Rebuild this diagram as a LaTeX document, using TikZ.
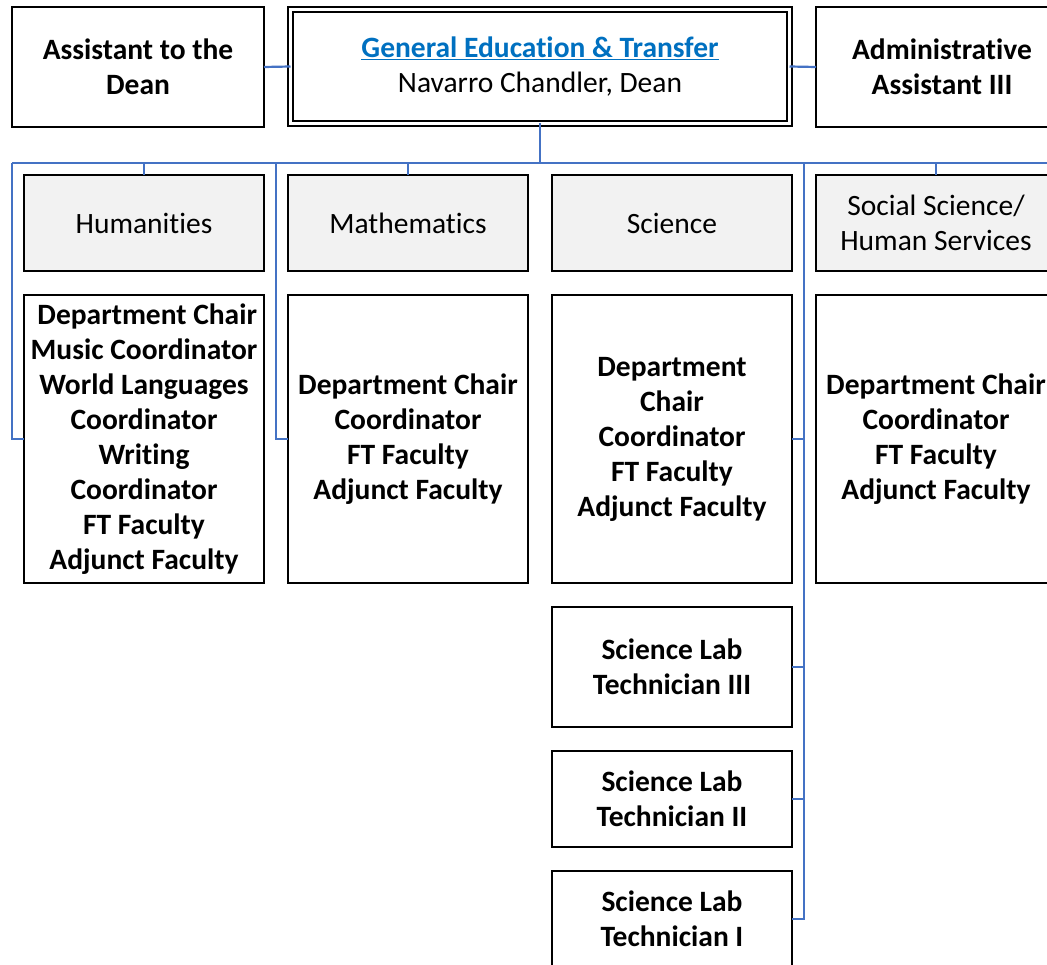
\documentclass[tikz,border=0pt]{standalone}
\usepackage{fontspec}
\setmainfont{Carlito}[Ligatures={NoCommon}]
\definecolor{connblue}{HTML}{4472C4}
\definecolor{linkblue}{HTML}{0070C0}
\definecolor{grayfill}{HTML}{F2F2F2}
\newcommand\orgfs{\fontsize{29.5}{35}\selectfont}
\tikzset{
  sz/.style 2 args={minimum width=#1pt, minimum height=#2pt},
  orgbox/.style={draw=black, line width=2.4pt, inner sep=0pt, outer sep=0pt, align=center, font=\orgfs\bfseries},
  deptbox/.style={orgbox, fill=grayfill, font=\orgfs},
  deanbox/.style={draw=black, double=white, line width=1.8pt, double distance=3.2pt, inner sep=0pt, outer sep=0pt, align=center, font=\orgfs},
  conn/.style={draw=connblue, line width=2.2pt},
}
\begin{document}
\begin{tikzpicture}[x=1pt, y=-1pt]
\useasboundingbox (0,0) rectangle (1047,965);
\clip (0,0) rectangle (1047,965);
% top row
\node[orgbox, sz={252}{120}] (asst) at (138,67) {Assistant to the\\Dean};
\node[deanbox, sz={499}{114}] (dean) at (540,66.5) {\textbf{\color{linkblue}\underline{General Education \& Transfer}}\\Navarro Chandler, Dean};
\node[orgbox, sz={252}{120}] (admin) at (942,67) {Administrative\\Assistant III};
% departments
\node[deptbox, sz={240}{96}] (hum) at (144,223) {Humanities};
\node[deptbox, sz={240}{96}] (math) at (408,223) {Mathematics};
\node[deptbox, sz={240}{96}] (sci) at (672,223) {Science};
\node[deptbox, sz={240}{96}] (soc) at (936,223) {Social Science/\\Human Services};
% details
\node[orgbox, sz={240}{288}] (humd) at (144,439) {\hspace*{6.5pt}Department Chair\\Music Coordinator\\World Languages\\Coordinator\\Writing\\Coordinator\\FT Faculty\\Adjunct Faculty};
\node[orgbox, sz={240}{288}] (mathd) at (408,439) {Department Chair\\Coordinator\\FT Faculty\\Adjunct Faculty};
\node[orgbox, sz={240}{288}] (scid) at (672,439) {Department\\Chair\\Coordinator\\FT Faculty\\Adjunct Faculty};
\node[orgbox, sz={240}{288}] (socd) at (936,439) {Department Chair\\Coordinator\\FT Faculty\\Adjunct Faculty};
% labs
\node[orgbox, sz={240}{120}] (lab3) at (672,667) {Science Lab\\Technician III};
\node[orgbox, sz={240}{96}] (lab2) at (672,799) {Science Lab\\Technician II};
\node[orgbox, sz={240}{96}] (lab1) at (672,919) {Science Lab\\Technician I};
% bus coordinates
\coordinate (bL) at (12,163);
\coordinate (bR) at (1047,163);
\coordinate (vM) at (276,163);
\coordinate (vS) at (804,163);
% connectors
\draw[conn] (asst.east) -- (dean.west);
\draw[conn] (dean.east) -- (admin.west);
\draw[conn] (dean.south) -- (dean.south |- bL);
\draw[conn] (bL) -- (bR);
\draw[conn] (hum.north) -- (hum.north |- bL);
\draw[conn] (math.north) -- (math.north |- bL);
\draw[conn] (soc.north) -- (soc.north |- bL);
\draw[conn] (bL) |- (humd.west);
\draw[conn] (vM) |- (mathd.west);
\draw[conn] (vS) |- (lab1.east);
\draw[conn] (scid.east) -- (scid.east -| vS);
\draw[conn] (lab3.east) -- (lab3.east -| vS);
\draw[conn] (lab2.east) -- (lab2.east -| vS);
\end{tikzpicture}
\end{document}
